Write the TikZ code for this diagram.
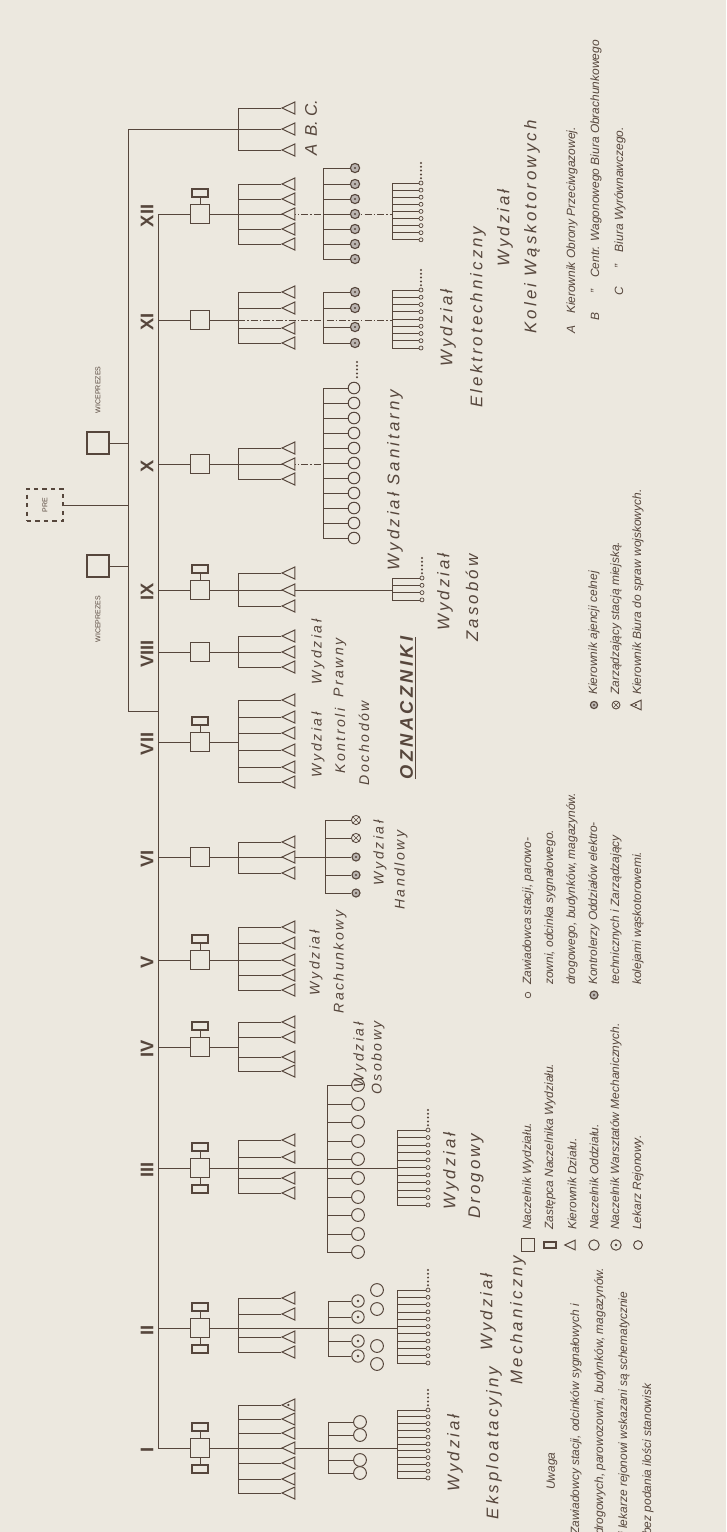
\documentclass[tikz,border=0pt]{standalone}
\usepackage{fontspec}
\setmainfont{Liberation Sans}
\newfontfamily\lettering[LetterSpace=18]{Liberation Sans}
\usetikzlibrary{shapes.geometric,positioning,calc}
\definecolor{paper}{RGB}{236,232,223}
\definecolor{ink}{RGB}{86,70,60}
\pgfdeclarelayer{paperlayer}
\pgfdeclarelayer{bg}
\pgfsetlayers{paperlayer,bg,main}

\begin{document}
\begin{tikzpicture}[
  x=0.25mm, y=-0.25mm,
  ln/.style={draw=ink, line width=0.5pt},
  dd/.style={ln, dash pattern=on 5pt off 1.5pt on 1pt off 1.5pt},
  chief/.style={rectangle, draw=ink, fill=paper, line width=1.1pt, minimum size=4.8mm, inner sep=0pt},
  deputy/.style={rectangle, draw=ink, fill=paper, line width=1.1pt, minimum width=4mm, minimum height=1.9mm, inner sep=0pt},
  kier/.style={isosceles triangle, isosceles triangle stretches, shape border rotate=180, draw=ink, fill=paper, line width=0.7pt, minimum width=3mm, minimum height=3.2mm, inner sep=0pt},
  kwoj/.style={kier, path picture={\fill[ink] (path picture bounding box.center) circle (0.3mm);}},
  odd/.style={circle, draw=ink, fill=paper, line width=0.7pt, minimum size=3.2mm, inner sep=0pt},
  warsz/.style={odd, minimum size=3.1mm, path picture={\fill[ink] (path picture bounding box.center) circle (0.35mm);}},
  stac/.style={circle, draw=ink, fill=paper, line width=0.5pt, minimum size=1mm, inner sep=0pt},
  kontr/.style={circle, draw=ink, fill=ink!40, line width=0.8pt, minimum size=2.3mm, inner sep=0pt, path picture={\fill[ink] (path picture bounding box.center) circle (0.3mm);}},
  ajen/.style={kontr, minimum size=2mm},
  miej/.style={circle, draw=ink, fill=paper, line width=0.6pt, minimum size=2.3mm, inner sep=0pt, path picture={\draw[ink, line width=0.4pt] (path picture bounding box.north west) -- (path picture bounding box.south east) (path picture bounding box.north east) -- (path picture bounding box.south west);}},
  pres/.style={rectangle, draw=ink, dashed, line width=0.8pt, minimum width=9mm, minimum height=8mm, inner sep=1pt},
  num/.style={rotate=90, text=ink, font=\fontsize{13}{13}\selectfont\bfseries, inner sep=0pt},
  wyd/.style={rotate=90, text=ink, font=\lettering\itshape\fontsize{12}{12}\selectfont, inner sep=0pt},
  wyds/.style={wyd, font=\lettering\itshape\fontsize{10}{10}\selectfont},
  leg/.style={rotate=90, anchor=west, text=ink, font=\itshape\fontsize{8.5}{8.5}\selectfont, inner sep=0pt}
]
\begin{pgfonlayer}{paperlayer}
  \fill[paper] (0,0) rectangle (726,1532);
\end{pgfonlayer}
\useasboundingbox (0,0) rectangle (726,1532);

% department heads, numbers and junctions
\foreach \d/\y in {I/1448,II/1328,III/1168,IV/1047,V/960,VI/857,VII/742,VIII/652,IX/590,X/464,XI/320,XII/214}{
  \coordinate (bb-\d) at (158,\y);
  \coordinate (tb-\d) at (238,\y);
  \node[chief] (n-\d) at (200,\y) {};
  \node[num] (l-\d) at (147,\y+2) {\d};
  \begin{pgfonlayer}{bg}
    \draw[ln] (bb-\d) -- (n-\d) -- (tb-\d);
  \end{pgfonlayer}
}
% deputies
\foreach \d/\y in {I/1448,II/1328,III/1168,IV/1047,V/960,VII/742,IX/590,XII/214}{
  \node[deputy] (za-\d) at (200,\y-21) {};
  \draw[ln] (za-\d) -- (n-\d);
}
\foreach \d/\y in {I/1448,II/1328,III/1168}{
  \node[deputy] (zb-\d) at (200,\y+21) {};
  \draw[ln] (zb-\d) -- (n-\d);
}

% kierownicy dzialow
\coordinate (tb-ABC) at (238,129);
\foreach \d/\ys in {I/{1419,1433,1448,1463,1479,1493}, II/{1298,1314,1337,1352},
    III/{1140,1157,1178,1193}, IV/{1022,1037,1057,1071}, V/{927,943,960,975,990},
    VI/{842,857,873}, VII/{700,717,733,750,767,782}, VIII/{636,652,667},
    IX/{573,590,606}, X/{448,464,479}, XI/{292,308,328,343},
    XII/{184,199,214,229,244}, ABC/{108,129,150}}{
  \foreach \yy [count=\k] in \ys {
    \node[kier] (t-\d-\k) at (291,\yy) {};
    \begin{pgfonlayer}{bg}
      \draw[ln] (tb-\d) |- (t-\d-\k);
    \end{pgfonlayer}
  }
}
\node[kwoj] (t-I-0) at (291,1405) {};
\begin{pgfonlayer}{bg}
  \draw[ln] (tb-I) |- (t-I-0);
\end{pgfonlayer}
\node[text=ink, rotate=90, font=\itshape\fontsize{12}{12}\selectfont] (abc-a) at (311,150) {A};
\node[text=ink, rotate=90, font=\itshape\fontsize{12}{12}\selectfont] (abc-b) at (311,129) {B.};
\node[text=ink, rotate=90, font=\itshape\fontsize{12}{12}\selectfont] (abc-c) at (311,108) {C.};

% naczelnicy oddzialow
\foreach \d/\x/\y in {I/328/1448, II/328/1328, III/327/1168, VI/325/857, X/323/464, XI/323/320, XII/323/214}
  \coordinate (cb-\d) at (\x,\y);
\foreach \d/\st/\x/\ys in {I/odd/360/{1422,1435,1460,1473}, II/warsz/358/{1301,1317,1341,1356},
    III/odd/358/{1085,1104,1122,1141,1159,1178,1197,1215,1234,1252},
    VI/miej/356/{820,838}, XI/kontr/355/{292,308,327,343},
    XII/kontr/355/{168,184,199,214,229,244,259}}{
  \foreach \yy [count=\k] in \ys {
    \node[\st] (c-\d-\k) at (\x,\yy) {};
    \begin{pgfonlayer}{bg}
      \draw[ln] (cb-\d) |- (c-\d-\k);
    \end{pgfonlayer}
  }
}
\foreach \yy [count=\k] in {857,875,893}{
  \node[ajen] (a-VI-\k) at (356,\yy) {};
  \begin{pgfonlayer}{bg}\draw[ln] (cb-VI) |- (a-VI-\k);\end{pgfonlayer}
}
\foreach \yy [count=\k] in {388,403,418,433,448,463,478,493,508,523,538}{
  \node[odd, minimum size=2.9mm] (c-X-\k) at (354,\yy) {};
  \begin{pgfonlayer}{bg}\draw[ln] (cb-X) |- (c-X-\k);\end{pgfonlayer}
}
\foreach \j in {1,...,5} \fill[ink] (357,381-3.8*\j) circle (0.28mm);
\foreach \yy/\xx [count=\k] in {1290/377,1309/377,1346/377,1364/377}
  \node[odd] (p-II-\k) at (\xx,\yy) {};

% zawiadowcy
\foreach \d/\x/\y in {I/397/1448, II/397/1328, III/397/1168, IX/392/590, XI/392/320, XII/392/214}
  \coordinate (sb-\d) at (\x,\y);
\foreach \d/\cx/\ya/\n/\sp in {I/428/1410/11/6.8, II/428/1290/11/7.3, III/428/1130/11/7.5,
    IX/422/578/4/7.3, XI/421/290/9/7.25, XII/421/183/9/7.1}{
  \foreach \k in {1,...,\n}{
    \node[stac] (s-\d-\k) at (\cx,\ya+\sp*\k-\sp) {};
    \begin{pgfonlayer}{bg}\draw[ln] (sb-\d) |- (s-\d-\k);\end{pgfonlayer}
  }
  \foreach \j in {1,...,5} \fill[ink] (\cx,\ya-1-3.8*\j) circle (0.28mm);
}

% main lines
\coordinate (bj) at (158,711);
\begin{pgfonlayer}{bg}
  \draw[ln] (bb-XII) -- (bb-I);
  \draw[ln] (tb-I) -- (cb-I) -- (sb-I);
  \draw[ln] (tb-II) -- (cb-II) -- (sb-II);
  \draw[ln] (tb-III) -- (cb-III) -- (sb-III);
  \draw[ln] (tb-VI) -- (cb-VI);
  \draw[ln] (tb-IX) -- (sb-IX);
  \draw[dd] (tb-X) -- (cb-X);
  \draw[dd] (tb-XI) -- (cb-XI) -- (sb-XI);
  \draw[dd] (tb-XII) -- (cb-XII) -- (sb-XII);
\end{pgfonlayer}

% zarzad
\node[pres] (pre) at (45,505) {\rotatebox{90}{\color{ink}\tiny PRE}};
\node[chief, minimum size=5.5mm] (wice-1) at (98,443) {};
\node[chief, minimum size=5.5mm] (wice-2) at (98,566) {};
\node[rotate=90, text=ink, font=\tiny, anchor=west] (wice-1l) at (98,418) {WICEPREZES};
\node[rotate=90, text=ink, font=\tiny, anchor=east] (wice-2l) at (98,591) {WICEPREZES};
\coordinate (pj) at (128,505);
\coordinate (pa) at (128,129);
\coordinate (pb) at (128,711);
\begin{pgfonlayer}{bg}
  \draw[ln] (pre) -- (pj);
  \draw[ln] (wice-1) -- (wice-1 -| pj);
  \draw[ln] (wice-2) -- (wice-2 -| pj);
  \draw[ln] (pa) -- (pb) -- (bj);
  \draw[ln] (pa) -- (tb-ABC);
\end{pgfonlayer}

% nazwy wydzialow
\node[wyd] (w-I) at (455,1453) {Wydział};
\node[wyd] (w-I2) at (494,1443) {Eksploatacyjny};
\node[wyd] (w-II) at (488,1312) {Wydział};
\node[wyd] (w-II2) at (518,1320) {Mechaniczny};
\node[wyd] (w-III) at (451,1171) {Wydział};
\node[wyd] (w-III2) at (476,1176) {Drogowy};
\node[wyds] (w-IV) at (360,1055) {Wydział};
\node[wyds] (w-IV2) at (378,1058) {Osobowy};
\node[wyds] (w-V) at (316,963) {Wydział};
\node[wyds] (w-V2) at (340,962) {Rachunkowy};
\node[wyds] (w-VI) at (380,853) {Wydział};
\node[wyds] (w-VI2) at (401,870) {Handlowy};
\node[wyds] (w-VII) at (318,745) {Wydział};
\node[wyds] (w-VII2) at (340,741) {Kontroli};
\node[wyds] (w-VII3) at (364,743) {Dochodów};
\node[wyds] (w-VIII) at (318,652) {Wydział};
\node[wyds] (w-VIII2) at (340,668) {Prawny};
\node[wyd] (w-IX) at (445,592) {Wydział};
\node[wyd] (w-IX2) at (472,598) {Zasobów};
\node[wyd] (w-X) at (395,480) {Wydział Sanitarny};
\node[wyd] (w-XI) at (448,328) {Wydział};
\node[wyd] (w-XI2) at (478,317) {Elektrotechniczny};
\node[wyd] (w-XII) at (505,228) {Wydział};
\node[wyd] (w-XII2) at (532,227) {Kolei Wąskotorowych};

% oznaczniki
\node[rotate=90, text=ink, font=\lettering\itshape\bfseries\fontsize{13}{13}\selectfont] (oz) at (408,708) {\underline{OZNACZNIKI}};
\node[chief, minimum size=3.2mm] (lg-1) at (528,1245) {};
\node[deputy, minimum width=3mm, minimum height=1.5mm] (lg-2) at (550,1245) {};
\node[kier, minimum width=2.4mm, minimum height=2.6mm] (lg-3) at (572,1245) {};
\node[odd, minimum size=2.6mm] (lg-4) at (594,1245) {};
\node[warsz, minimum size=2.6mm] (lg-5) at (616,1245) {};
\node[odd, minimum size=2.2mm] (lg-6) at (638,1245) {};
\node[leg] (lt-1) at (528,1230) {Naczelnik Wydziału.};
\node[leg] (lt-2) at (550,1230) {Zastępca Naczelnika Wydziału.};
\node[leg] (lt-3) at (572,1230) {Kierownik Działu.};
\node[leg] (lt-4) at (594,1230) {Naczelnik Oddziału.};
\node[leg] (lt-5) at (616,1230) {Naczelnik Warsztatów Mechanicznych.};
\node[leg] (lt-6) at (638,1230) {Lekarz Rejonowy.};
\node[stac, minimum size=1.4mm] (lg-7) at (528,995) {};
\node[kontr, minimum size=2mm] (lg-8) at (594,995) {};
\node[leg] (lt-7) at (528,985) {Zawiadowca stacji, parowo-};
\node[leg] (lt-7b) at (550,985) {zowni, odcinka sygnałowego.};
\node[leg] (lt-7c) at (572,985) {drogowego, budynków, magazynów.};
\node[leg] (lt-8) at (594,985) {Kontrolerzy Oddziałów elektro-};
\node[leg] (lt-8b) at (616,985) {technicznych i Zarządzający};
\node[leg] (lt-8c) at (638,985) {kolejami wąskotorowemi.};
\node[ajen, minimum size=1.8mm] (lg-9) at (594,705) {};
\node[miej, minimum size=2mm] (lg-10) at (616,705) {};
\node[kwoj, minimum width=2.4mm, minimum height=2.6mm] (lg-11) at (638,705) {};
\node[leg] (lt-9) at (594,695) {Kierownik ajencji celnej};
\node[leg] (lt-10) at (616,695) {Zarządzający stacją miejską.};
\node[leg] (lt-11) at (638,695) {Kierownik Biura do spraw wojskowych.};
\node[leg, anchor=east] (lt-A) at (572,127) {A\quad Kierownik Obrony Przeciwgazowej.};
\node[leg, anchor=east] (lt-B) at (596,40) {B\quad\ \ ''\quad Centr. Wagonowego Biura Obrachunkowego};
\node[leg, anchor=east] (lt-C) at (620,127) {C\quad\ \ ''\quad Biura Wyrównawczego.};

% uwaga
\node[leg] (u-0) at (552,1490) {Uwaga};
\node[leg] (u-1) at (576,1535) {Zawiadowcy stacji, odcinków sygnałowych i};
\node[leg] (u-2) at (600,1535) {drogowych, parowozowni, budynków, magazynów.};
\node[leg] (u-3) at (624,1535) {i lekarze rejonowi wskazani są schematycznie};
\node[leg] (u-4) at (648,1535) {bez podania ilości stanowisk};
\end{tikzpicture}
\end{document}
